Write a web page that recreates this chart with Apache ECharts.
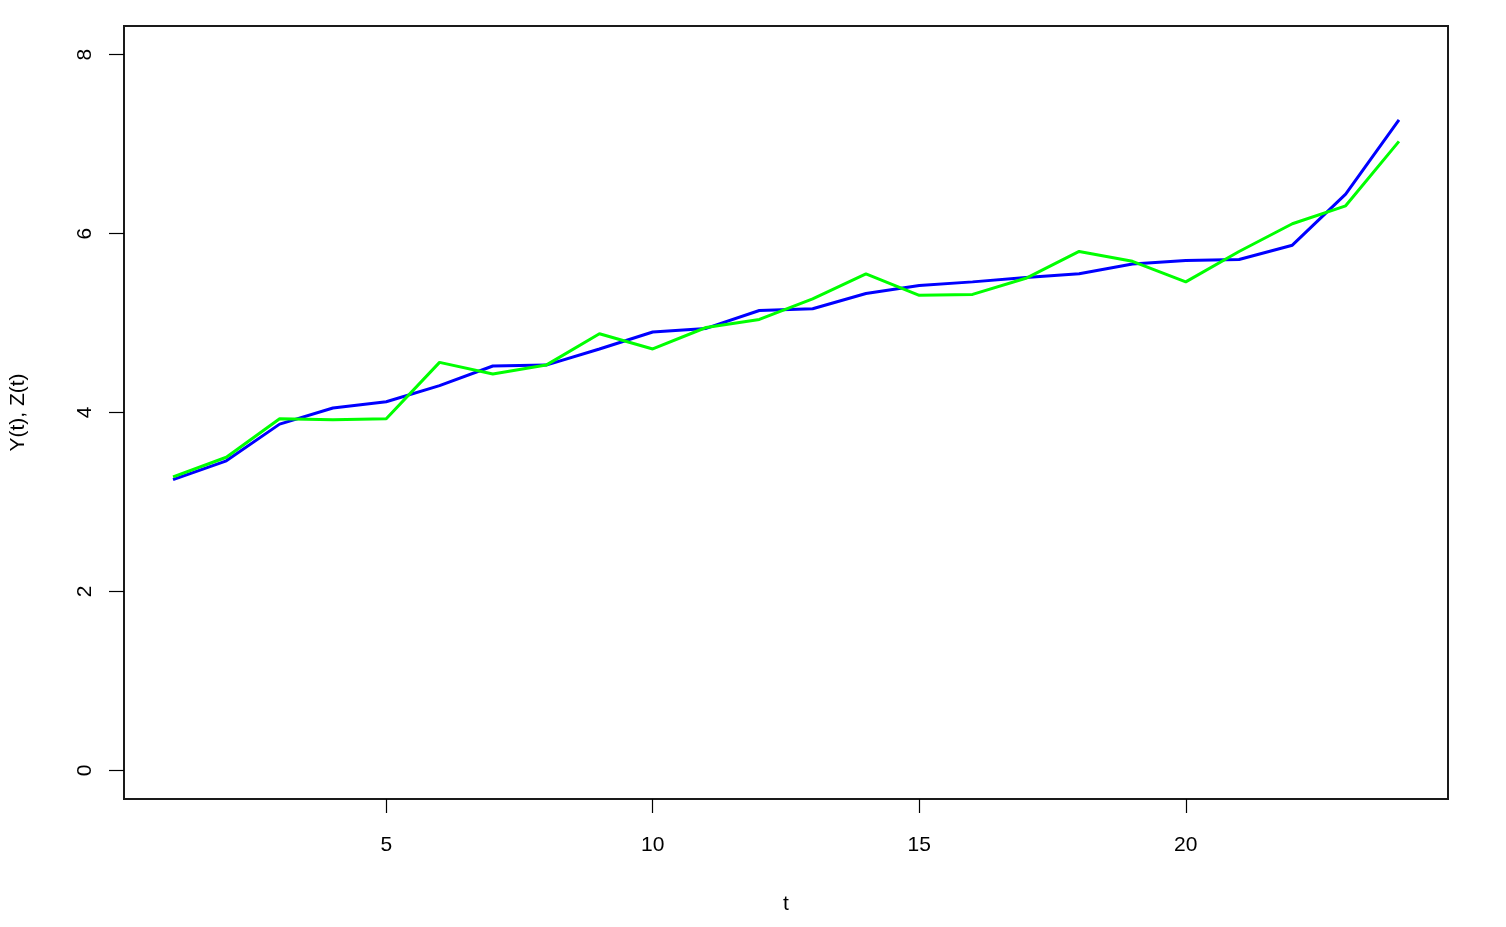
<!DOCTYPE html>
<html>
<head>
<meta charset="utf-8">
<script src="https://cdn.jsdelivr.net/npm/echarts@6/dist/echarts.min.js"></script>
<style>html,body{margin:0;padding:0;background:#fff}#c{width:1506px;height:927px}</style>
</head>
<body>
<div id="c"></div>
<script>
const tValues = [1,2,3,4,5,6,7,8,9,10,11,12,13,14,15,16,17,18,19,20,21,22,23,24];
const yValues = [3.25,3.46,3.87,4.05,4.12,4.30,4.52,4.53,4.71,4.90,4.94,5.14,5.16,5.33,5.42,5.46,5.51,5.55,5.66,5.70,5.71,5.87,6.44,7.27];
const zValues = [3.28,3.50,3.93,3.92,3.93,4.56,4.43,4.53,4.88,4.71,4.95,5.04,5.27,5.55,5.31,5.32,5.50,5.80,5.69,5.46,5.80,6.11,6.31,7.03];
const xTicks = [5,10,15,20];
const yTicks = [0,2,4,6,8];
const xTitle = 't';
const yTitle = 'Y(t), Z(t)';

const FONT = 'Liberation Sans, Arial, Helvetica, sans-serif';
const chart = echarts.init(document.getElementById('c'), null, {renderer: 'canvas'});
chart.setOption({
  animation: false,
  backgroundColor: '#fff',
  grid: {left: 123, right: 58, top: 26, bottom: 128, show: true, borderColor: '#1a1a1a', borderWidth: 2, backgroundColor: 'transparent'},
  xAxis: {
    type: 'value', min: 0.08, max: 24.92,
    splitLine: {show: false},
    axisLine: {show: false, onZero: false},
    axisTick: {show: true, inside: false, length: 14, customValues: xTicks, lineStyle: {color: '#000', width: 1.2}},
    axisLabel: {customValues: xTicks, color: '#000', fontFamily: FONT, fontSize: 21, margin: 36},
    name: xTitle, nameLocation: 'middle', nameGap: 95,
    nameTextStyle: {color: '#000', fontFamily: FONT, fontSize: 21}
  },
  yAxis: {
    type: 'value', min: -0.32, max: 8.32,
    splitLine: {show: false},
    axisLine: {show: false, onZero: false},
    axisTick: {show: true, inside: false, length: 15, customValues: yTicks, lineStyle: {color: '#000', width: 1.2}},
    axisLabel: {customValues: yTicks, color: '#000', fontFamily: FONT, fontSize: 21, rotate: 90, margin: 28},
    name: yTitle, nameLocation: 'middle', nameGap: 95, nameRotate: 90,
    nameTextStyle: {color: '#000', fontFamily: FONT, fontSize: 21}
  },
  series: [
    {type: 'line', data: tValues.map((t, i) => [t, yValues[i]]), showSymbol: false, symbol: 'none',
     lineStyle: {color: '#0000ff', width: 3}, itemStyle: {color: '#0000ff'}, z: 2},
    {type: 'line', data: tValues.map((t, i) => [t, zValues[i]]), showSymbol: false, symbol: 'none',
     lineStyle: {color: '#00ff00', width: 3}, itemStyle: {color: '#00ff00'}, z: 3}
  ]
});
</script>
</body>
</html>
